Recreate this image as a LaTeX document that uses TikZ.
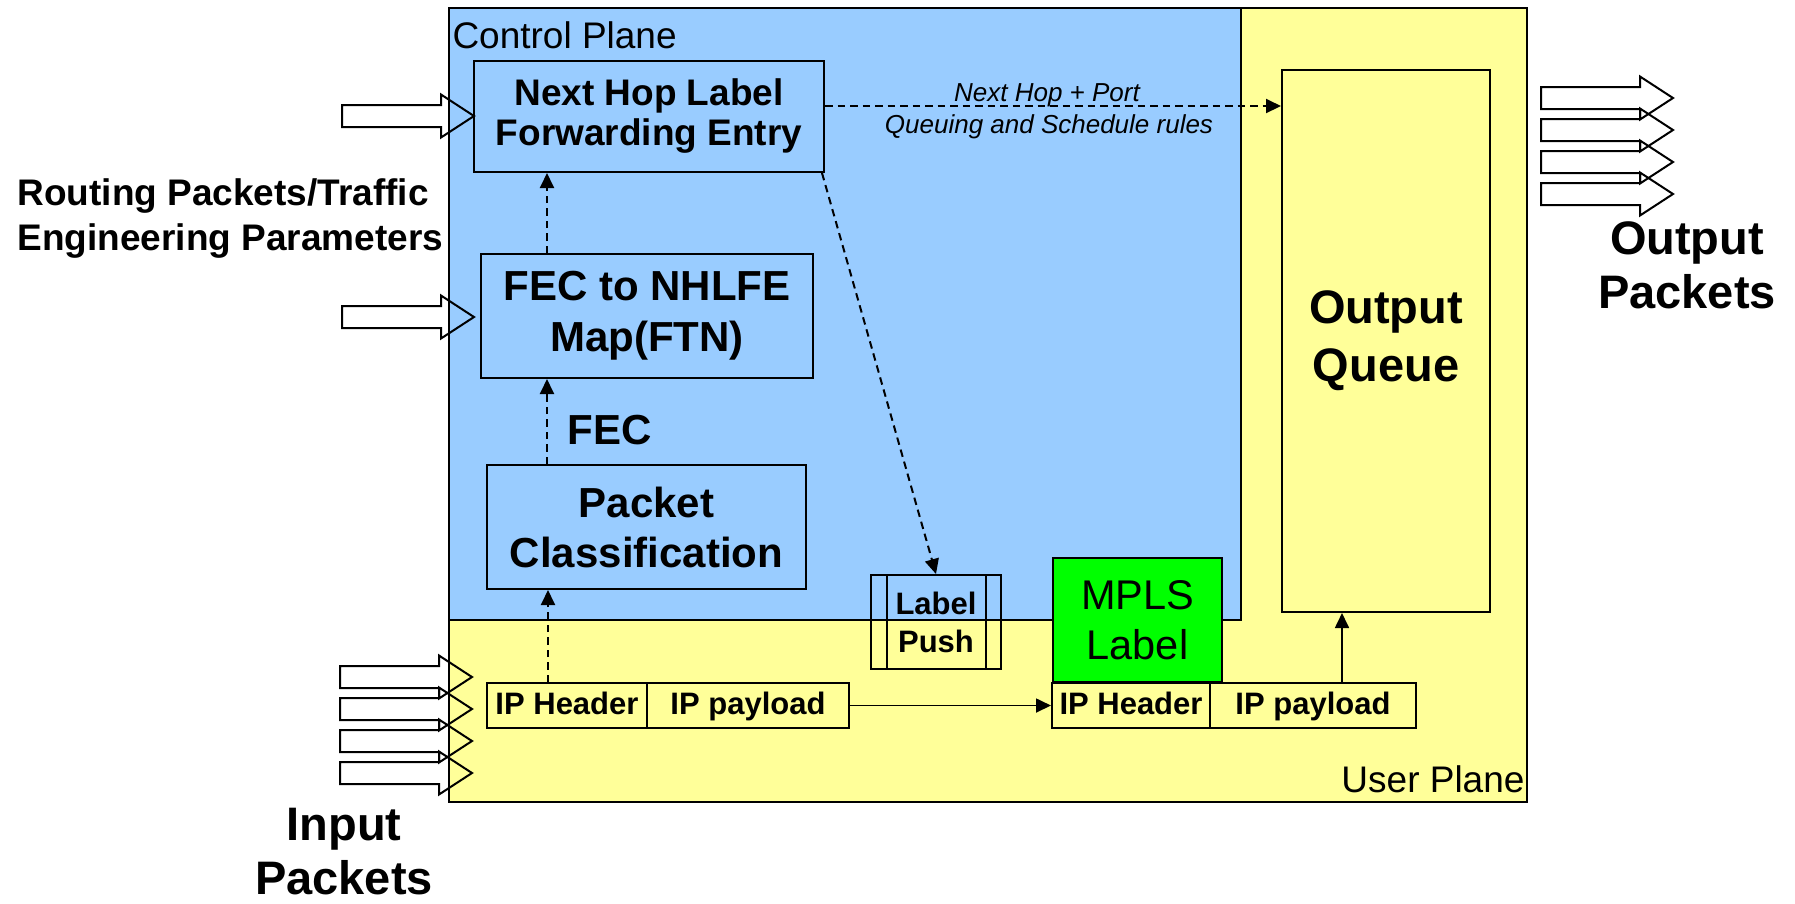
\documentclass[tikz,border=0pt]{standalone}
\usepackage{fontspec}
\setmainfont{Liberation Sans}
\usetikzlibrary{arrows.meta}
\definecolor{cpblue}{HTML}{99CCFF}
\definecolor{upyellow}{HTML}{FFFF99}
\definecolor{mplsgreen}{HTML}{00FF00}
\begin{document}
\begin{tikzpicture}[x=0.4pt,y=-0.4pt,
  plane/.style={draw, line width=1pt, inner sep=0pt},
  box/.style={draw, line width=0.8pt, inner sep=0pt, align=center},
  cell/.style={draw, line width=0.8pt, inner sep=0pt, minimum height=18pt, text height=0.72em, text depth=0pt,
    font=\fontsize{12.4}{15.2}\selectfont\bfseries},
  fbig/.style={font=\fontsize{16.8}{20.4}\selectfont\bfseries},
  fmid/.style={font=\fontsize{14.8}{16}\selectfont\bfseries},
  fhuge/.style={font=\fontsize{18.8}{21.6}\selectfont\bfseries},
  fplane/.style={font=\fontsize{14.8}{17.6}\selectfont},
  fnote/.style={font=\fontsize{10.4}{12.4}\selectfont\itshape},
  dashconn/.style={line width=0.8pt, dash pattern=on 3pt off 2pt, -{Triangle[length=6pt,width=5.6pt]}},
  conn/.style={line width=0.7pt, -{Triangle[length=6pt,width=5.6pt]}},
  blockarrow/.pic={\draw[line width=0.8pt, line join=miter]
     (-132,-11) -- (-33,-11) -- (-33,-21.5) -- (0,0) -- (-33,21.5) -- (-33,11) -- (-132,11) -- cycle;}
]
\useasboundingbox (0,0) rectangle (1795,903);

% planes
\node[plane, fill=upyellow, minimum width=431.2pt, minimum height=317.6pt] (userplane) at (988,405) {};
\node[plane, fill=cpblue, line width=0.8pt, minimum width=316.8pt, minimum height=244.8pt] (ctrlplane) at (845,314) {};
\node[fplane, anchor=base west, inner sep=0pt] (cplabel) at (452,48) {Control Plane};
\node[fplane, anchor=base east, inner sep=0pt] (uplabel) at (1525,792) {User Plane};

% control-plane boxes
\node[box, fmid, minimum width=140pt, minimum height=44.4pt] (nhlfe) at (649,116.5) {Next Hop Label\\Forwarding Entry};
\node[box, fbig, minimum width=132.8pt, minimum height=49.6pt] (ftn) at (647,316) {FEC to NHLFE\\Map(FTN)};
\node[box, minimum width=127.6pt, minimum height=49.6pt, font=\fontsize{16.8}{20}\selectfont\bfseries] (pc) at (646.5,527) {Packet\\Classification};
\node[fbig, anchor=base west, inner sep=0pt] (feclabel) at (567,444) {FEC};

% label push
\node[box, minimum width=52pt, minimum height=37.6pt, font=\fontsize{12.4}{15.2}\selectfont\bfseries] (lp) at (936,622) {Label\\Push};
\draw[line width=0.8pt] ([xshift=6.8pt]lp.north west) -- ([xshift=6.8pt]lp.south west);
\draw[line width=0.8pt] ([xshift=-6.4pt]lp.north east) -- ([xshift=-6.4pt]lp.south east);

% MPLS label
\node[box, fill=mplsgreen, minimum width=67.6pt, minimum height=49.6pt, font=\fontsize{16.6}{20}\selectfont] (mpls) at (1137.5,620) {MPLS\\Label};

% packets
\node[cell, minimum width=64pt] (ih1) at (567,705.5) {IP Header};
\node[cell, minimum width=80.8pt] (ip1) at (748,705.5) {IP payload};
\node[cell, minimum width=63.2pt] (ih2) at (1131,705.5) {IP Header};
\node[cell, minimum width=82.4pt] (ip2) at (1313,705.5) {IP payload};

% output queue
\node[box, minimum width=83.2pt, minimum height=216.8pt, font=\fontsize{18.8}{23.2}\selectfont\bfseries] (oq) at (1386,341) {Output\\Queue};

% outer labels
\node[anchor=north west, align=left, inner sep=0pt, font=\fontsize{14.8}{18}\selectfont\bfseries] (routing) at (17,178) {Routing Packets/Traffic\\Engineering Parameters};
\node[fhuge, anchor=north, align=center, inner sep=0pt] (inlabel) at (344,808) {Input\\Packets};
\node[fhuge, anchor=north, align=center, inner sep=0pt] (outlabel) at (1687,221) {Output\\Packets};

% notes on the dashed connector
\node[fnote, anchor=base, inner sep=0pt] (nhport) at (1047,101.7) {Next Hop + Port};
\node[fnote, anchor=base, inner sep=0pt] (qsrules) at (1049,133) {Queuing and Schedule rules};

% block arrows
\pic at (474,116) {blockarrow};
\pic at (474,317) {blockarrow};
\foreach \yy in {677,709,741,773} { \pic at (472,\yy) {blockarrow}; }
\foreach \yy in {98,130,162,194} { \pic at (1673,\yy) {blockarrow}; }

% connectors
\coordinate (dx) at (547,0);
\coordinate (cx) at (548,0);
\coordinate (qx) at (1342,0);
\coordinate (dy) at (0,106);
\draw[dashconn] (dx |- ftn.north) -- (dx |- nhlfe.south);
\draw[dashconn] (dx |- pc.north) -- (dx |- ftn.south);
\draw[dashconn] (cx |- ih1.north) -- (cx |- pc.south);
\draw[dashconn] ([xshift=-1.2pt]nhlfe.south east) -- (lp.north);
\draw[dashconn] (nhlfe.east |- dy) -- (oq.west |- dy);
\draw[conn] (ip1.east) -- (ih2.west);
\draw[conn] (qx |- ip2.north) -- (qx |- oq.south);
\end{tikzpicture}
\end{document}
